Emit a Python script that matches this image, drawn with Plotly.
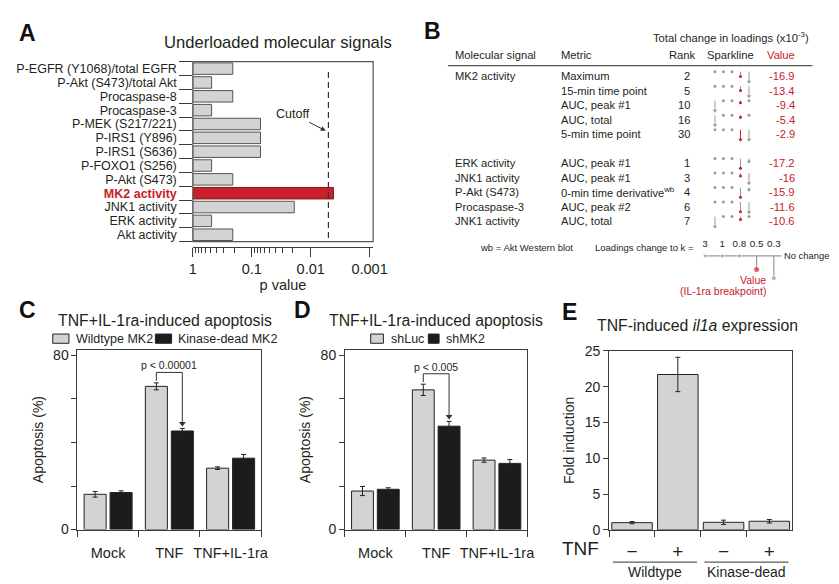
import plotly.graph_objects as go

W, H = 839, 584
FONT = "Liberation Sans, Arial, Helvetica, sans-serif"
TXT = "#231f20"
AX = "#3a3a3a"
RED = "#c8202a"
LIGHT = "#d3d3d3"
BLACK = "#1c1c1c"
SPARK_GREY = "#9a9a9a"


def X(px):
    return px / W


def Y(py):
    return 1 - py / H


# ---------------- Panel A data ----------------
a_signals = ["P-EGFR (Y1068)/total EGFR", "P-Akt (S473)/total Akt", "Procaspase-8",
             "Procaspase-3", "P-MEK (S217/221)", "P-IRS1 (Y896)", "P-IRS1 (S636)",
             "P-FOXO1 (S256)", "P-Akt (S473)", "MK2 activity", "JNK1 activity",
             "ERK activity", "Akt activity"]
a_pvalues = [0.21, 0.48, 0.21, 0.48, 0.071, 0.071, 0.071, 0.48, 0.21, 0.0041, 0.019, 0.48, 0.21]
a_highlight = "MK2 activity"
a_cutoff = 0.005
a_xtick_vals = [1, 0.1, 0.01, 0.001]
a_xtick_text = ["1", "0.1", "0.01", "0.001"]

# ---------------- Panel B data ----------------
b_group = [0, 0, 0, 0, 0, 1, 1, 1, 1, 1]
b_signal = ["MK2 activity", "", "", "", "", "ERK activity", "JNK1 activity",
            "P-Akt (S473)", "Procaspase-3", "JNK1 activity"]
b_metric = ["Maximum", "15-min time point", "AUC, peak #1", "AUC, total", "5-min time point",
            "AUC, peak #1", "AUC, peak #1", "0-min time derivative<sup>wb</sup>",
            "AUC, peak #2", "AUC, total"]
b_rank = [2, 5, 10, 16, 30, 1, 3, 4, 6, 7]
b_value = [-16.9, -13.4, -9.4, -5.4, -2.9, -17.2, -16, -15.9, -11.6, -10.6]
b_k = [3, 1, 0.8, 0.5, 0.3]
b_breakpoint_k = 0.5
# drop in loadings at each k (in row heights); None = off scale (arrow)
b_spark = [
    [0, 0, 0, 0.33, None],
    [0, 0, 0, 0.30, None],
    [None, 0, 0, 0.15, 0],
    [None, 0, 0, 0.15, 0],
    [0, 0, 0, None, None],
    [0, 0, 0, 0.67, 0.20],
    [0, 0, 0, 0.20, None],
    [0, 0, 0, 0.67, 0.15],
    [0, 0, 0, 0.67, None],
    [None, 0, 0, 0.20, 0],
]
b_key_drop = [0, 0, 0, 1.4, 2.3]

# ---------------- Panels C, D, E data ----------------
cd_cats = ["Mock", "TNF", "TNF+IL-1ra"]
c_wt = [16.2, 65.8, 28.2]
c_wt_err = [1.3, 1.6, 0.6]
c_kd = [17.0, 45.3, 32.8]
c_kd_err = [0.8, 1.2, 1.7]
d_luc = [17.7, 64.2, 31.9]
d_luc_err = [2.1, 2.6, 1.0]
d_mk2 = [18.5, 47.5, 30.4]
d_mk2_err = [0.7, 2.2, 1.8]
e_groups = ["Wildtype", "Wildtype", "Kinase-dead", "Kinase-dead"]
e_tnf = ["\u2212", "+", "\u2212", "+"]
e_fold = [1.0, 21.7, 1.05, 1.2]
e_err = [0.15, 2.4, 0.3, 0.25]

fig = go.Figure()
ann = []
shapes = []


def txt(x, y, s, size, color=TXT, xanchor="center", yanchor="middle",
        xref="paper", yref="paper", **kw):
    d = dict(x=x, y=y, text=s, showarrow=False, xanchor=xanchor, yanchor=yanchor,
             xref=xref, yref=yref, font=dict(size=size, color=color, family=FONT))
    d.update(kw)
    return d


# ======== Panel A ========
a_pos = list(range(len(a_signals)))
fig.add_trace(go.Bar(
    orientation="h", y=a_pos, x=[p - 1 for p in a_pvalues], base=1, width=0.83,
    marker=dict(color=[RED if s == a_highlight else LIGHT for s in a_signals],
                line=dict(color=["#8e1519" if s == a_highlight else "#555" for s in a_signals],
                          width=1)),
    xaxis="x", yaxis="y", showlegend=False, hoverinfo="skip"))
a_ticktext = [
    '<b><span style="color:%s">%s</span></b>' % (RED, s) if s == a_highlight else s
    for s in a_signals]
shapes.append(dict(type="rect", xref="x domain", yref="y domain", x0=0, x1=1, y0=0, y1=1,
                   line=dict(color="#555", width=1.2)))
shapes.append(dict(type="line", xref="x", yref="y domain", x0=a_cutoff, x1=a_cutoff,
                   y0=0.02, y1=0.96, line=dict(color="#333", width=1.2, dash="6px,4px")))
ann.append(txt(X(272), Y(27), "Underloaded molecular signals", 16.6))
ann.append(dict(x=X(321), y=Y(118), xref="paper", yref="paper", text="Cutoff", showarrow=True,
                ax=-33, ay=-17, arrowhead=2, arrowsize=1, arrowwidth=1, arrowcolor="#333",
                font=dict(size=12.5, color=TXT, family=FONT)))
minor_a = [m * 10.0 ** (-d) for d in range(3) for m in range(2, 10)]

# ======== Panel B ========
b_rowpos = [i + g for i, g in enumerate(b_group)]
SPARK_BASE = -0.32
ARROW_LEN = 0.7
stem_x, stem_y, rstem_x, rstem_y = [], [], [], []
dot_x, dot_y, dot_c = [], [], []
head_x, head_y, head_c = [], [], []
for i, row in enumerate(b_spark):
    r = b_rowpos[i]
    for j, d in enumerate(row):
        xj = j + 1
        col = RED if b_k[j] == b_breakpoint_k else SPARK_GREY
        y0 = r + SPARK_BASE
        if d is None:
            y1 = y0 + ARROW_LEN
            if col == RED:
                rstem_x += [xj, xj, None]
                rstem_y += [y0, y1, None]
            else:
                stem_x += [xj, xj, None]
                stem_y += [y0, y1, None]
            head_x.append(xj)
            head_y.append(y1)
            head_c.append(col)
        else:
            y1 = y0 + d
            if d > 0:
                stem_x += [xj, xj, None]
                stem_y += [y0, y1, None]
            dot_x.append(xj)
            dot_y.append(y1)
            dot_c.append(col)
fig.add_trace(go.Scatter(x=stem_x, y=stem_y, mode="lines", line=dict(color=SPARK_GREY, width=1),
                         xaxis="x2", yaxis="y2", showlegend=False, hoverinfo="skip"))
fig.add_trace(go.Scatter(x=rstem_x, y=rstem_y, mode="lines", line=dict(color=RED, width=1),
                         xaxis="x2", yaxis="y2", showlegend=False, hoverinfo="skip"))
fig.add_trace(go.Scatter(x=dot_x, y=dot_y, mode="markers", marker=dict(color=dot_c, size=3),
                         xaxis="x2", yaxis="y2", showlegend=False, hoverinfo="skip"))
fig.add_trace(go.Scatter(x=head_x, y=head_y, mode="markers",
                         marker=dict(color=head_c, size=4, symbol="triangle-down"),
                         xaxis="x2", yaxis="y2", showlegend=False, hoverinfo="skip"))

BF = 11.2
for i in range(len(b_metric)):
    r = b_rowpos[i]
    if b_signal[i]:
        ann.append(txt(X(451), r, b_signal[i], BF, xanchor="left", yref="y2"))
    ann.append(txt(X(560), r, b_metric[i], BF, xanchor="left", yref="y2"))
    ann.append(txt(X(696), r, str(b_rank[i]), BF, xanchor="right", yref="y2"))
    ann.append(txt(X(803), r, "%g" % b_value[i], BF, color=RED, xanchor="right", yref="y2"))

ann.append(txt(X(818), Y(22), "Total change in loadings (x10<sup>-3</sup>)", BF, xanchor="right"))
ann.append(txt(X(451), Y(40), "Molecular signal", BF, xanchor="left"))
ann.append(txt(X(560), Y(40), "Metric", BF, xanchor="left"))
ann.append(txt(X(702), Y(40), "Rank", BF, xanchor="right"))
ann.append(txt(X(735), Y(40), "Sparkline", BF))
ann.append(txt(X(803), Y(40), "Value", BF, color=RED, xanchor="right"))
shapes.append(dict(type="line", xref="paper", yref="paper", x0=X(446), x1=X(819), y0=Y(51), y1=Y(51),
                   line=dict(color="#555", width=1.2)))

# key
fig.add_trace(go.Scatter(x=[1, 5.45], y=[0, 0], mode="lines", line=dict(color=SPARK_GREY, width=1.2),
                         xaxis="x3", yaxis="y3", showlegend=False, hoverinfo="skip"))
kx, ky = [], []
for j, d in enumerate(b_key_drop):
    if d > 0:
        kx += [j + 1, j + 1, None]
        ky += [0, d, None]
fig.add_trace(go.Scatter(x=kx, y=ky, mode="lines", line=dict(color=SPARK_GREY, width=1.2),
                         xaxis="x3", yaxis="y3", showlegend=False, hoverinfo="skip"))
fig.add_trace(go.Scatter(x=list(range(1, len(b_k) + 1)), y=b_key_drop, mode="markers",
                         marker=dict(color=[RED if k == b_breakpoint_k else SPARK_GREY for k in b_k],
                                     size=[4, 4, 4, 6, 5]),
                         xaxis="x3", yaxis="y3", showlegend=False, hoverinfo="skip"))
ann.append(txt(5.45, 0, "No change", 9.4, xanchor="left", xref="x3", yref="y3"))
ann.append(txt(X(477), Y(238), "wb = Akt Western blot", 9.5, xanchor="left"))
ann.append(txt(X(594), Y(238), "Loadings change to k =", 9.5, xanchor="left"))
ann.append(txt(X(774), Y(271), "Value", 10.5, color=RED, xanchor="right"))
ann.append(txt(X(774), Y(283), "(IL-1ra breakpoint)", 10.5, color=RED, xanchor="right"))

# ======== Panels C & D ========
BW = 0.36
OFFS = (-0.392, 0.032)


def grouped(xa, ya, v1, e1, v2, e2, plabel):
    xs = list(range(len(cd_cats)))
    for vals, errs, col, off in ((v1, e1, LIGHT, OFFS[0]), (v2, e2, BLACK, OFFS[1])):
        fig.add_trace(go.Bar(x=xs, y=vals, width=BW, offset=off,
                             marker=dict(color=col, line=dict(color="#222", width=1)),
                             error_y=dict(type="data", array=errs, color="#222", thickness=1, width=2.5),
                             xaxis=xa, yaxis=ya, showlegend=False, hoverinfo="skip"))
    i = cd_cats.index("TNF")
    lc = i + OFFS[0] + BW / 2
    rc = i + OFFS[1] + BW / 2
    lt = v1[i] + e1[i]
    rt = v2[i] + e2[i]
    top = max(lt, rt) + 4.8
    fig.add_trace(go.Scatter(x=[lc, lc, rc, rc], y=[lt + 1, top, top, rt + 2.6], mode="lines",
                             line=dict(color="#333", width=1), xaxis=xa, yaxis=ya,
                             showlegend=False, hoverinfo="skip"))
    fig.add_trace(go.Scatter(x=[rc], y=[rt + 2.2], mode="markers",
                             marker=dict(symbol="triangle-down", size=6, color="#333"),
                             xaxis=xa, yaxis=ya, showlegend=False, hoverinfo="skip"))
    ann.append(txt(i, top + 3.3, plabel, 10.5, xref=xa, yref=ya))


grouped("x4", "y4", c_wt, c_wt_err, c_kd, c_kd_err, "p &lt; 0.00001")
grouped("x5", "y5", d_luc, d_luc_err, d_mk2, d_mk2_err, "p &lt; 0.005")

ann.append(txt(X(157), Y(313), "TNF+IL-1ra-induced apoptosis", 15.8))
ann.append(txt(X(434), Y(313), "TNF+IL-1ra-induced apoptosis", 15.8))
# manual legends
for (x0, x1, col, label, tx) in ((41.7, 58.3, LIGHT, "Wildtype MK2", 63),
                                 (146.7, 163.3, BLACK, "Kinase-dead MK2", 168),
                                 (367, 380, LIGHT, "shLuc", 386),
                                 (426, 437, BLACK, "shMK2", 442)):
    shapes.append(dict(type="rect", xref="paper", yref="paper", x0=X(x0), x1=X(x1),
                       y0=Y(336.5), y1=Y(327), fillcolor=col, line=dict(color="#222", width=1)))
    ann.append(txt(X(tx), Y(332), label, 12.5, xanchor="left"))

# ======== Panel E ========
e_keys = ["%s %s" % (g, t) for g, t in zip(e_groups, e_tnf)]
fig.add_trace(go.Bar(x=e_keys, y=e_fold, width=0.885,
                     marker=dict(color=LIGHT, line=dict(color="#222", width=1)),
                     error_y=dict(type="data", array=e_err, color="#222", thickness=1, width=2.5),
                     xaxis="x6", yaxis="y6", showlegend=False, hoverinfo="skip"))
ann.append(txt(X(701), Y(318), "TNF-induced <i>il1a</i> expression", 15.8))
ann.append(txt(X(582), Y(548), "TNF", 19))
groups_order = []
for g in e_groups:
    if g not in groups_order:
        groups_order.append(g)
for g in groups_order:
    idx = [k for k, gg in enumerate(e_groups) if gg == g]
    c = (idx[0] + idx[-1]) / 2
    shapes.append(dict(type="line", xref="x6", yref="paper", x0=idx[0] - 0.42, x1=idx[-1] + 0.42,
                       y0=Y(561.5), y1=Y(561.5), line=dict(color="#333", width=1)))
    ann.append(txt(c, Y(572), g, 14, xref="x6"))

# panel letters
for (lx, ly, L) in ((16, 17, "A"), (430, 15, "B"), (16, 302, "C"), (297, 302, "D"), (570, 304, "E")):
    ann.append(dict(x=X(lx), y=Y(ly), text="<b>%s</b>" % L, showarrow=False, xref="paper",
                    yref="paper", xanchor="center", yanchor="middle",
                    font=dict(size=23, color="#111", family=FONT)))

hidden = dict(visible=False, showgrid=False, zeroline=False, fixedrange=True)
common_line = dict(showline=True, linecolor=AX, linewidth=1, showgrid=False, zeroline=False,
                   tickcolor=AX)


def cd_axes(x0, x1):
    xa = dict(domain=[X(x0), X(x1)], range=[-0.5, 2.5], tickmode="array",
              tickvals=list(range(len(cd_cats))), ticktext=cd_cats, ticks="", mirror=True,
              minor=dict(ticks="outside", tickmode="linear", tick0=0.5, dtick=1, ticklen=6,
                         tickcolor=AX),
              tickfont=dict(size=14.5), ticklabelstandoff=10, **common_line)
    ya = dict(domain=[Y(528), Y(343)], range=[0, 82.7], tickmode="array",
              tickvals=[0, 80], ticktext=["0", "80"], ticks="outside", ticklen=5, mirror=True,
              minor=dict(ticks="outside", tickmode="linear", tick0=0, dtick=20, ticklen=5,
                         tickcolor=AX),
              tickfont=dict(size=14),
              title=dict(text="Apoptosis (%)", font=dict(size=14), standoff=6), **common_line)
    return xa, ya


xa4, ya4 = cd_axes(67, 255)
xa5, ya5 = cd_axes(340.7, 527.3)
xa4["anchor"], ya4["anchor"] = "y4", "x4"
xa5["anchor"], ya5["anchor"] = "y5", "x5"

fig.update_layout(
    width=W, height=H, margin=dict(l=0, r=0, t=0, b=0),
    paper_bgcolor="white", plot_bgcolor="white", barmode="overlay", showlegend=False,
    font=dict(family=FONT, color=TXT, size=12),
    xaxis=dict(domain=[X(185), X(369.5)], type="log", range=[0, -3.06], anchor="free",
               position=Y(237), tickmode="array", tickvals=a_xtick_vals, ticktext=a_xtick_text,
               ticks="outside", ticklen=9,
               minor=dict(ticks="outside", ticklen=5, tickcolor=AX, tickmode="array",
                          tickvals=minor_a),
               tickfont=dict(size=14.5), title=dict(text="p value", font=dict(size=14.5), standoff=0),
               **common_line),
    yaxis=dict(domain=[Y(232), Y(47)], anchor="x", range=[len(a_signals) - 0.5, -0.5],
               tickmode="array", tickvals=a_pos, ticktext=a_ticktext, ticks="",
               minor=dict(ticks="outside", tickmode="linear", tick0=0.5, dtick=1, ticklen=13,
                          tickcolor=AX),
               ticklabelstandoff=15, showline=False, showgrid=False, zeroline=False,
               tickfont=dict(size=12.5)),
    xaxis2=dict(domain=[X(714.9), X(758.4)], range=[0.5, 5.5], anchor="y2", **hidden),
    yaxis2=dict(domain=[Y(218.45), Y(54.55)], range=[10.5, -0.5], anchor="x2", **hidden),
    xaxis3=dict(domain=[X(700.2), X(788.3)], range=[0.5, 5.5], anchor="y3", side="top",
                tickmode="array", tickvals=list(range(1, len(b_k) + 1)),
                ticktext=["%g" % k for k in b_k], ticks="", showline=False, showgrid=False,
                zeroline=False, tickfont=dict(size=9.8), ticklabelstandoff=2),
    yaxis3=dict(domain=[Y(278), Y(243)], range=[3.13, -0.37], anchor="x3", **hidden),
    xaxis4=xa4, yaxis4=ya4, xaxis5=xa5, yaxis5=ya5,
    xaxis6=dict(domain=[X(611), X(798.3)], anchor="y6", type="category", categoryorder="array",
                categoryarray=e_keys, range=[-0.5, len(e_keys) - 0.5], tickmode="array",
                tickvals=e_keys, ticktext=e_tnf, tickson="boundaries", ticks="outside", ticklen=6,
                mirror=True, tickfont=dict(size=19), ticklabelstandoff=4, **common_line),
    yaxis6=dict(domain=[Y(528.3), Y(344.3)], anchor="x6", range=[0, 25], dtick=5,
                ticks="outside", ticklen=5, mirror=True, tickfont=dict(size=14),
                title=dict(text="Fold induction", font=dict(size=14), standoff=6), **common_line),
    annotations=ann, shapes=shapes,
)

fig.write_html("out.html")
